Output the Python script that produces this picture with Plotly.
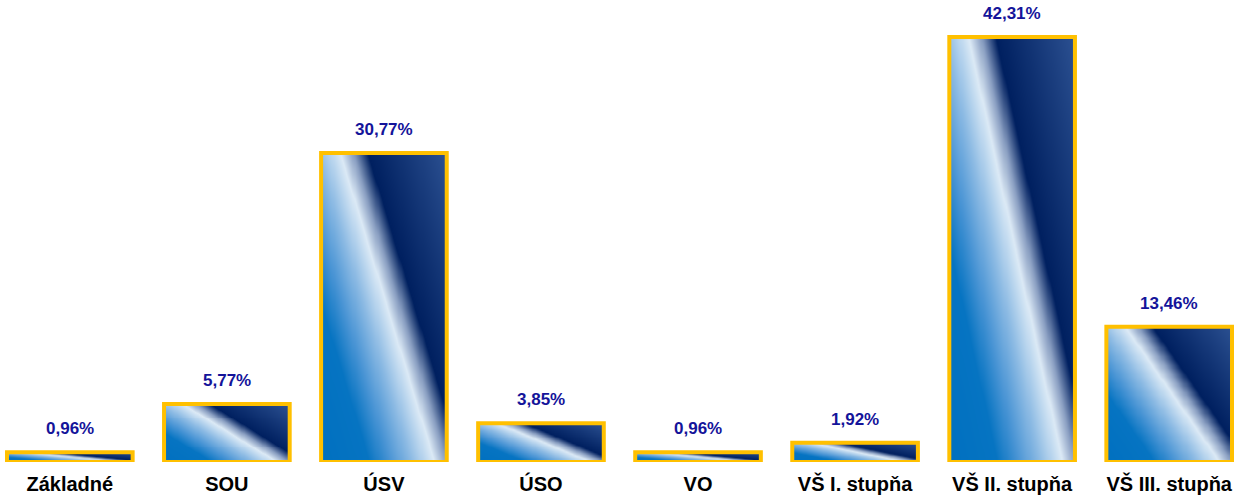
import numpy as np
import plotly.graph_objects as go

categories = ["Základné", "SOU", "ÚSV", "ÚSO", "VO", "VŠ I. stupňa", "VŠ II. stupňa", "VŠ III. stupňa"]
values = [0.96, 5.77, 30.77, 3.85, 0.96, 1.92, 42.31, 13.46]

positions = list(range(len(categories)))
bar_width = 0.8

# diagonal gradient colour scale (t = u + 0.75 v, range 0..1.75)
TMAX = 1.75
stops = [
    (0.00, "#0070C0"),
    (0.38, "#0674C2"),
    (0.55, "#4A95D5"),
    (0.72, "#8DBBE4"),
    (0.90, "#DCEAF6"),
    (1.00, "#8A9FC2"),
    (1.12, "#002060"),
    (1.75, "#2C5192"),
]
colorscale = [[s / TMAX, c] for s, c in stops]

fig = go.Figure()

nx, ny = 60, 60
for pos, val in zip(positions, values):
    xe = np.linspace(pos - bar_width / 2, pos + bar_width / 2, nx + 1)
    ye = np.linspace(0, val, ny + 1)
    u = (np.arange(nx) + 0.5) / nx
    v = (np.arange(ny) + 0.5) / ny
    U, V = np.meshgrid(u, v)
    Z = U + 0.75 * V
    fig.add_trace(go.Heatmap(
        x=xe, y=ye, z=Z, zmin=0, zmax=TMAX, colorscale=colorscale,
        zsmooth="best", showscale=False, hoverinfo="skip",
    ))

fig.add_trace(go.Bar(
    x=positions, y=values, width=bar_width,
    marker=dict(color="rgba(0,0,0,0)", line=dict(color="#FFC000", width=4)),
    hoverinfo="skip", showlegend=False, cliponaxis=False,
))

for pos, val in zip(positions, values):
    fig.add_annotation(
        x=pos, y=val, yanchor="bottom", yshift=12,
        text="<b>" + f"{val:.2f}".replace(".", ",") + "%</b>",
        showarrow=False,
        font=dict(family="Arial, Liberation Sans, sans-serif", size=17, color="#14149A"),
    )

fig.update_layout(
    width=1239, height=497,
    margin=dict(l=0, r=0, t=0, b=35),
    paper_bgcolor="white", plot_bgcolor="white",
    showlegend=False,
    hovermode=False,
    xaxis=dict(
        range=[-0.4446, 7.4446], tickvals=positions,
        ticktext=["<b>" + c + "</b>" for c in categories],
        showgrid=False, zeroline=False, showline=False, ticks="",
        ticklabelstandoff=8,
        tickfont=dict(family="Arial, Liberation Sans, sans-serif", size=20, color="black"),
    ),
    yaxis=dict(range=[0, 46], showgrid=False, zeroline=False, showline=False,
               showticklabels=False, ticks=""),
)

fig.write_html("out.html", config={"displayModeBar": False},
               post_script="document.body.style.margin='0';")
